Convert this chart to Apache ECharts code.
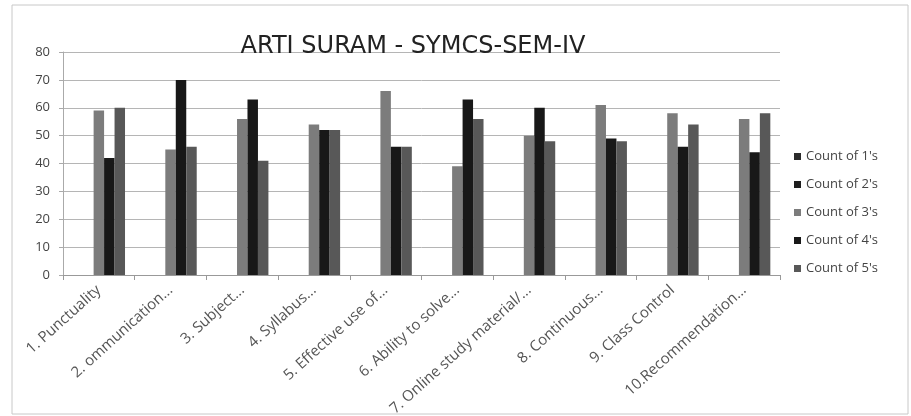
<!DOCTYPE html>
<html>
<head>
<meta charset="utf-8">
<script src="https://cdn.jsdelivr.net/npm/echarts@6/dist/echarts.min.js"></script>
<style>
html, body { margin: 0; padding: 0; background: #fff; }
#chart { width: 911px; height: 416px; }
</style>
</head>
<body>
<div id="chart"></div>
<script>
// categories and counts
var categories = ['1. Punctuality', '2. ommunication...', '3. Subject...', '4. Syllabus...',
    '5. Effective use of...', '6. Ability to solve...', '7. Online study material/...',
    '8. Continuous...', '9. Class Control', '10.Recommendation...'];
var count1 = [0, 0, 0, 0, 0, 0, 0, 0, 0, 0];
var count2 = [0, 0, 0, 0, 0, 0, 0, 0, 0, 0];
var count3 = [59, 45, 56, 54, 66, 39, 50, 61, 58, 56];
var count4 = [42, 70, 63, 52, 46, 63, 60, 49, 46, 44];
var count5 = [60, 46, 41, 52, 46, 56, 48, 48, 54, 58];
var yTicks = [0, 80, 10];

var names = ["Count of 1's", "Count of 2's", "Count of 3's", "Count of 4's", "Count of 5's"];
var colors = ['#2b2b2b', '#1e1e1e', '#7c7c7c', '#181818', '#585858'];
var values = [count1, count2, count3, count4, count5];

var myChart = echarts.init(document.getElementById('chart'));

var series = [];
for (var i = 0; i < names.length; i++) {
    series.push({
        name: names[i],
        type: 'bar',
        data: values[i],
        barGap: '0%',
        barCategoryGap: '27%',
        itemStyle: { color: colors[i] }
    });
}

myChart.setOption({
    backgroundColor: '#fff',
    animation: false,
    color: colors,
    graphic: [{
        type: 'rect',
        shape: { x: 12, y: 5, width: 896, height: 409 },
        style: { fill: 'none', stroke: '#c8c8c8', lineWidth: 1 },
        silent: true
    }],
    title: {
        text: 'ARTI SURAM - SYMCS-SEM-IV',
        left: 408,
        textAlign: 'center',
        top: 30,
        textStyle: { fontFamily: 'DejaVu Sans', fontSize: 24, fontWeight: 'normal', color: '#222' }
    },
    legend: {
        orient: 'vertical',
        left: 789,
        top: 145,
        itemWidth: 7,
        itemHeight: 7,
        itemGap: 15,
        icon: 'rect',
        textStyle: { fontFamily: 'Open Sans', fontSize: 13, color: '#444' }
    },
    grid: { left: 63, right: 131, top: 52, bottom: 141, outerBoundsMode: 'none' },
    xAxis: {
        type: 'category',
        data: categories,
        axisLine: { lineStyle: { color: '#999' } },
        axisTick: { show: true, lineStyle: { color: '#999' } },
        axisLabel: {
            rotate: 42,
            interval: 0,
            fontFamily: 'Open Sans',
            fontSize: 15,
            color: '#555',
            margin: 13
        }
    },
    yAxis: {
        type: 'value',
        min: yTicks[0],
        max: yTicks[1],
        interval: yTicks[2],
        axisLine: { show: true, lineStyle: { color: '#aaa' } },
        axisTick: { show: true, length: 4, lineStyle: { color: '#aaa' } },
        splitLine: { lineStyle: { color: '#b5b5b5' } },
        axisLabel: { fontFamily: 'Open Sans', fontSize: 13, color: '#444', margin: 13 }
    },
    series: series
});
</script>
</body>
</html>
